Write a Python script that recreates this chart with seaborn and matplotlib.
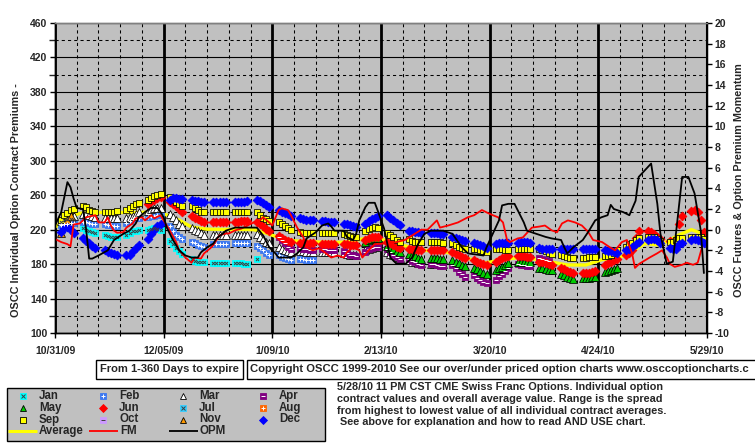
import numpy as np
import pandas as pd
import matplotlib
matplotlib.use("Agg")
import matplotlib.pyplot as plt
import seaborn as sns
from matplotlib.patches import Rectangle
from matplotlib.ticker import MultipleLocator, FixedLocator

sns.set_theme(style="white")
plt.rcParams["font.family"] = ["Liberation Sans", "DejaVu Sans"]
plt.rcParams["font.weight"] = "bold"

origin = pd.Timestamp("2009-10-31")
x_tick_days = [0, 35, 70, 105, 140, 175, 210]
x_tick_labels = ["10/31/09", "12/05/09", "1/09/10", "2/13/10", "3/20/10", "4/24/10", "5/29/10"]
left_ticks = list(range(100, 461, 40))
right_ticks = list(range(-10, 21, 2))

# daily contract averages (left axis), one list per contract month
jan_start = "2009-11-02"
jan_vals = [229, 231, 232, 232, 231, 222, 220, 218, 217, 216, 214, 213, 212, 212, 212,
            214, 216, 218, 219, 220, 220, 221, 222, 221, 220, 207, 203, 199, 195, 192,
            186, 184, 183, 182, 182, 181, 181, 181, 181, 181, 181, 181, 181, 180, 180, 186]

feb_start = "2009-11-02"
feb_vals = [225, 226, 227, 228, 228, 229, 229, 228, 227, 226, 226, 225, 225, 224, 224,
            228, 230, 232, 233, 234, 235, 236, 236, 237, 237, 224, 219, 214, 211, 209,
            206, 204, 202, 201, 200, 203, 203, 203, 203, 203, 205, 205, 205, 205, 205,
            201, 199, 196, 193, 191, 190, 188, 187, 186, 185, 186, 186, 185, 185, 185]

mar_start = "2009-11-02"
mar_vals = [230, 233, 235, 236, 236, 238, 238, 237, 236, 235, 234, 234, 233, 233, 233,
            234, 235, 236, 238, 240, 242, 244, 245, 245, 245, 238, 235, 231, 227, 224,
            222, 220, 218, 216, 214, 214, 214, 214, 214, 214, 214, 214, 214, 214, 214,
            215, 212, 209, 206, 204, 200, 198, 196, 195, 194, 195, 195, 194, 194, 194,
            194, 194, 194, 194, 194, 193, 192, 191, 191, 191, 196, 198, 199, 200, 200,
            194, 192, 190, 188, 187, 185, 183, 182, 181, 181, 180, 180, 180, 180, 180]

apr_start = "2010-01-11"
apr_vals = [212, 208, 204, 200, 198, 199, 198, 197, 196, 196, 198, 197, 196, 196, 196,
            195, 193, 191, 190, 189, 194, 197, 199, 200, 200, 197, 194, 191, 188, 186,
            186, 184, 182, 180, 179, 180, 180, 179, 178, 178, 179, 175, 171, 168, 165,
            167, 164, 161, 159, 158, 162, 166, 169, 172, 175, 180, 179, 179, 178, 178,
            187, 186, 185, 184]

may_start = "2010-02-08"
may_vals = [206, 208, 209, 210, 210, 201, 199, 197, 195, 194, 192, 190, 189, 187, 186,
            187, 187, 187, 186, 186, 185, 183, 181, 179, 178, 176, 174, 172, 170, 169,
            173, 175, 177, 179, 181, 183, 183, 183, 182, 182, 176, 175, 174, 173, 173,
            169, 167, 165, 164, 163, 164, 164, 164, 165, 165, 171, 172, 173, 174, 175]

jun_start = "2009-11-30"
jun_vals = [250, 253, 255, 257, 258, 252, 250, 247, 244, 241, 236, 234, 232, 230, 229,
            229, 229, 229, 229, 229, 229, 229, 230, 230, 230, 229, 227, 224, 221, 218,
            213, 210, 208, 207, 206, 205, 204, 204, 204, 204, 203, 203, 203, 203, 203,
            203, 203, 202, 202, 202, 208, 210, 211, 211, 211, 206, 204, 202, 200, 199,
            198, 197, 197, 196, 196, 196, 196, 196, 196, 196, 194, 192, 190, 188, 187,
            185, 183, 181, 180, 179, 183, 185, 187, 188, 189, 189, 189, 189, 188, 188,
            183, 182, 181, 180, 179, 176, 174, 172, 171, 170, 170, 170, 170, 171, 172,
            179, 181, 183, 185, 186, 190, 193, 196, 210, 218, 218, 217, 215, 212, 209,
            207, 206, 208, 226, 236, 242, 243, 241, 231, 217]

sep_start = "2009-11-02"
sep_vals = [231, 237, 239, 243, 244, 247, 246, 243, 242, 241, 240, 240, 240, 241, 242,
            243, 245, 247, 250, 251, 254, 257, 259, 260, 261, 258, 255, 252, 250, 248,
            247, 245, 243, 241, 240, 240, 240, 240, 240, 240, 241, 241, 241, 241, 241,
            240, 237, 234, 232, 230, 229, 226, 224, 222, 220, 217, 216, 216, 216, 216,
            216, 216, 216, 216, 216, 215, 214, 213, 212, 211, 218, 221, 222, 223, 222,
            216, 214, 211, 208, 206, 209, 207, 206, 206, 206, 206, 206, 206, 206, 205,
            204, 202, 200, 199, 198, 197, 197, 196, 195, 194, 197, 197, 197, 196, 196,
            197, 197, 197, 197, 197, 197, 196, 195, 193, 192, 190, 189, 188, 187, 187,
            187, 187, 188, 188, 188, 189, 189, 190, 193, 196, 200, 203, 205, 208, 210,
            211, 212, 211, 209, 207, 206, 206, 208, 210, 210, 211, 211, 211, 211, 209]

nov_start = "2009-11-02"
nov_vals = [216, 224, 231, 236]

dec_start = "2009-11-02"
dec_vals = [217, 222, 223, 220, 216, 210, 207, 204, 201, 199, 196, 194, 193, 192, 191,
            190, 191, 195, 199, 202, 209, 215, 220, 224, 227, 255, 257, 257, 256, 256,
            254, 253, 253, 252, 252, 252, 252, 252, 252, 252, 252, 252, 252, 252, 253,
            254, 253, 251, 249, 246, 243, 241, 239, 238, 236, 233, 232, 231, 231, 231,
            230, 230, 229, 229, 229, 227, 226, 225, 224, 223, 227, 230, 232, 234, 236,
            237, 234, 231, 228, 225, 219, 218, 217, 217, 216, 216, 216, 216, 215, 215,
            212, 210, 209, 208, 207, 204, 203, 202, 201, 199, 203, 204, 205, 205, 205,
            205, 206, 206, 206, 205, 199, 198, 197, 197, 197, 197, 197, 197, 197, 197,
            197, 197, 197, 197, 197, 196, 195, 195, 194, 193, 196, 197, 200, 203, 206,
            208, 209, 209, 208, 205, 199, 198, 198, 203, 205, 208, 209, 208, 207, 205]

# overall average (left axis)
avg_days = [0, 5, 8, 14, 25, 34, 36, 40, 44, 49, 64, 68, 72, 77, 82, 90, 95, 100, 103,
            114, 118, 125, 131, 138, 144, 150, 156, 165, 171, 176, 184, 190, 195, 201,
            205, 208, 209]
avg_vals = [223, 235, 239, 240, 240, 240.5, 237, 231, 223, 220.5, 220, 216, 211, 207,
            206, 205, 206, 210, 211, 200, 196, 195, 189, 181, 185, 188, 185, 179, 179,
            185, 190, 204, 202, 214, 220, 216, 208]

# futures momentum (right axis)
fm_days = [0, 2, 4, 5, 6, 8, 10, 13, 14, 16, 17, 18, 19, 20, 22, 23, 25, 26, 28, 29,
           31, 32, 34, 35, 37, 39, 40, 42, 44, 45, 47, 48, 50, 51, 52, 53, 55, 56, 58,
           60, 62, 64, 66, 67, 69, 70, 72, 73, 75, 76, 78, 80, 81, 83, 85, 86, 89, 91,
           93, 94, 96, 98, 99, 101, 102, 103, 108.5, 112.7, 118, 120, 123, 124, 126.6,
           129.8, 133, 135, 137.5, 139.5, 141, 142.7, 144.3, 145.6, 146.5, 149, 150.7,
           153.6, 156, 157.8, 160, 161.7, 163.3, 165.2, 167.5, 169.7, 171.7, 173.3,
           176.2, 178.7, 180.4, 182.6, 184.2, 185.8, 186.8, 188.2, 191.5, 193.9, 195.5,
           197.1, 198, 199.6, 202, 203.5, 205.5, 207, 208.4]
fm_vals = [-0.9, -1.2, -1.4, -1.6, 0.5, 0.6, 1.2, 1.4, 0.7, 0.7, 1.2, 0.4, -0.1, -0.3,
           -0.25, 0.2, 0.6, 1.1, 1.2, 0.9, 1.4, 1.1, 1.4, 0.9, -0.1, -1.2, -2.0, -2.7,
           -3.2, -2.7, -2.8, -2.3, -1.8, -1.5, -1.0, -0.55, -0.37, -0.37, -0.07, 0.1,
           0.4, 0.7, 0.9, 1.2, 0.7, 0.4, 1.9, 2.06, 1.9, 1.4, 0.2, -0.75, -1.7, -2.0,
           -1.8, -2.0, -2.7, -2.5, -2.7, -2.2, -1.7, -2.0, -2.7, -2.0, -1.7, -1.4, -1.3,
           -1.0, 0.0, 0.0, 0.9, 0.2, 0.4, 0.7, 1.2, 1.4, 1.9, 1.6, 1.4, 1.2, 0.7, -1.0,
           -1.2, -0.85, -0.75, 0.2, 0.3, 0.4, -0.07, -0.25, 0.6, 0.9, 0.7, 0.4, -0.2,
           -1.0, -1.2, -1.7, -2.0, -1.2, -1.0, -2.2, -3.7, -3.3, -2.7, -2.3, -2.0, -2.7,
           -3.3, -3.6, -3.4, -3.2, -3.4, -3.2, -1.7]

# option premium momentum (right axis)
opm_days = [0, 2, 4, 5, 6, 7, 9, 10, 11, 12, 14, 17, 19, 22, 24, 26, 27, 29, 31, 33,
            34, 35, 36, 38, 40, 42, 44, 46, 47, 49, 51, 52, 54, 55, 58, 65, 67, 69, 71,
            72, 76, 78, 80, 81, 84, 86, 88, 89, 90, 93, 94, 96, 97, 98, 100, 101, 103,
            104, 106, 108, 110, 113, 115, 117, 119, 121, 125, 128, 131, 133, 138, 139,
            141, 143, 144, 146, 148, 149, 151, 152, 155, 158, 160, 163, 164, 165, 167,
            170, 172, 174, 176, 178, 179, 180, 183, 185, 187, 188, 192, 194, 195, 197,
            199, 202, 204, 206, 208, 209]
opm_vals = [0.4, 1.7, 4.6, 4.1, 3.0, 2.1, 2.0, 0.1, -2.8, -2.8, -2.5, -2.0, -1.0, -0.4,
            -0.1, 0.6, 1.2, 1.7, 2.1, 2.1, 1.7, 1.2, 0.2, -1.0, -2.0, -2.5, -2.7, -2.7,
            -2.2, -1.7, -1.35, -0.85, -0.4, -0.1, 0.2, 0.2, -0.55, -1.7, -2.3, -2.7,
            -2.7, -2.3, -1.7, -0.85, -0.25, 0.4, 0.6, 0.3, -0.1, -0.1, -0.7, -1.0, -0.4,
            0.9, 2.2, 2.6, 2.6, 1.8, 0.1, -2.7, -3.3, -3.3, -2.7, -1.35, -0.4, -0.1,
            -0.1, -0.4, -1.7, -2.3, -2.5, -1.7, -0.4, 0.9, 2.35, 2.5, 2.5, 1.9, 0.7,
            -0.1, -0.4, -0.7, -0.85, -1.0, -1.7, -2.3, -1.7, -1.0, -0.1, 0.9, 1.2, 1.4,
            2.4, 2.0, 1.7, 1.4, 2.8, 5.1, 6.4, 2.5, -0.4, -3.3, -3.1, 5.1, 5.1, 3.5,
            -0.1, -4.2]

legend_names = ["Jan", "Feb", "Mar", "Apr", "May", "Jun", "Jul", "Aug", "Sep", "Oct", "Nov", "Dec"]
info_lines = ["5/28/10 11 PM CST CME Swiss Franc Options. Individual option",
              "contract values and overall average value. Range is the spread",
              "from highest to lowest value of all individual contract averages.",
              " See above for explanation and how to read AND USE chart."]
copyright_text = "Copyright OSCC 1999-2010 See our over/under priced option charts www.osccoptioncharts.c"

# marker styles: (marker, face, edge, inner marker, inner colour)
styles = {
    "Jan": ("s", "#00FFFF", "#00FFFF", "x", "#404040"),
    "Feb": ("s", "#3C78F0", "#3C78F0", "+", "white"),
    "Mar": ("^", "white", "black", None, None),
    "Apr": ("s", "#800080", "#800080", "_", "white"),
    "May": ("^", "#00CC00", "black", None, None),
    "Jun": ("D", "#FF0000", "#FF0000", None, None),
    "Jul": ("s", "#33CCFF", "#33CCFF", "x", "#404040"),
    "Aug": ("s", "#FF6600", "#FF6600", "+", "white"),
    "Sep": ("s", "#FFFF00", "black", None, None),
    "Oct": ("s", "#CC99FF", "#CC99FF", "_", "#404040"),
    "Nov": ("^", "#FF9900", "black", None, None),
    "Dec": ("D", "#0000FF", "#0000FF", None, None),
}

series = [("Jan", jan_start, jan_vals), ("Feb", feb_start, feb_vals),
          ("Mar", mar_start, mar_vals), ("Apr", apr_start, apr_vals),
          ("May", may_start, may_vals), ("Jun", jun_start, jun_vals),
          ("Sep", sep_start, sep_vals), ("Nov", nov_start, nov_vals),
          ("Dec", dec_start, dec_vals)]


def trade_days(start, vals):
    d = pd.bdate_range(start, periods=len(vals))
    return (d - origin).days.to_numpy()


fig = plt.figure(figsize=(7.55, 4.46), dpi=100)
fig.patch.set_facecolor("white")
ax = fig.add_axes([55 / 755, 113 / 446, 652 / 755, 310 / 446])
ax.set_facecolor("#C0C0C0")

ax.set_xlim(0, 210)
ax.set_ylim(100, 460)
ax.xaxis.set_major_locator(FixedLocator(x_tick_days))
ax.xaxis.set_minor_locator(MultipleLocator(7))
ax.yaxis.set_major_locator(FixedLocator(left_ticks))
ax.yaxis.set_minor_locator(MultipleLocator(20))
ax.set_xticklabels(x_tick_labels)
ax.set_yticklabels([str(t) for t in left_ticks])

ax.grid(which="major", axis="x", color="black", lw=2.0)
ax.grid(which="minor", axis="x", color="black", lw=0.75, ls=(0, (3, 3)))
ax.grid(which="major", axis="y", color="black", lw=0.8)
ax.grid(which="minor", axis="y", color="black", lw=0.75, ls=(0, (3, 3)))
ax.set_axisbelow(True)

ax.tick_params(axis="x", which="major", direction="out", length=3.5, width=1,
               color="black", pad=6, labelsize=7.5, bottom=True)
ax.tick_params(axis="x", which="minor", direction="out", length=2.5, width=0.8,
               color="black", bottom=True)
ax.tick_params(axis="y", which="major", direction="out", length=3.5, width=1,
               color="black", pad=2, labelsize=7.5, left=True)
ax.tick_params(axis="y", which="minor", left=False)
for lab in ax.get_xticklabels() + ax.get_yticklabels():
    lab.set_fontweight("bold")

# average line under the contract markers
sns.lineplot(x=avg_days, y=avg_vals, ax=ax, color="#FFFF00", lw=2.4, zorder=2,
             sort=False, estimator=None)

for name, start, vals in series:
    mk, face, edge, inner, inner_c = styles[name]
    days = trade_days(start, vals)
    size = {"s": 24, "D": 20, "^": 32}[mk]
    sns.scatterplot(x=days, y=vals, ax=ax, marker=mk, s=size, color=face,
                    edgecolor=edge, linewidth=0.55, zorder=3, legend=False)
    if inner is not None:
        sns.scatterplot(x=days, y=vals, ax=ax, marker=inner, s=5, color=inner_c,
                        linewidth=0.7, zorder=3.1, legend=False)

tw = ax.twinx()
tw.set_ylim(-10, 20)
tw.yaxis.set_major_locator(FixedLocator(right_ticks))
tw.set_yticklabels([str(t) for t in right_ticks])
tw.tick_params(axis="y", direction="out", length=3.5, width=1, color="black",
               pad=2, labelsize=7.5, right=True)
for lab in tw.get_yticklabels():
    lab.set_fontweight("bold")
tw.grid(False)

sns.lineplot(x=fm_days, y=fm_vals, ax=tw, color="#FF0000", lw=1.3, sort=False,
             estimator=None)
sns.lineplot(x=opm_days, y=opm_vals, ax=tw, color="black", lw=1.3, sort=False,
             estimator=None)
tw.set_xlim(0, 210)
tw.set_ylabel("")
ax.set_ylabel("")

for a in (ax, tw):
    for side in ("left", "bottom", "right"):
        a.spines[side].set_color("black")
        a.spines[side].set_linewidth(1.0)
    a.spines["top"].set_color("#808080")
    a.spines["top"].set_linewidth(1.0)
tw.spines["right"].set_linewidth(1.5)

fig.text(16 / 755, 1 - 200 / 446, "OSCC Individual Option Contract Premiums -",
         rotation=90, ha="center", va="center", fontsize=7.8, fontweight="bold")
fig.text(739 / 755, 1 - 180 / 446, "OSCC Futures & Option Premium Momentum",
         rotation=90, ha="center", va="center", fontsize=7.8, fontweight="bold")

# overlay in pixel units for the boxes and legend
ov = fig.add_axes([0, 0, 1, 1], zorder=5)
ov.set_xlim(0, 755)
ov.set_ylim(446, 0)
ov.axis("off")

ov.add_patch(Rectangle((96, 359.5), 147, 19, facecolor="white", edgecolor="black", lw=1))
ov.text(169.5, 369, "From 1-360 Days to expire", ha="center", va="center",
        fontsize=8, fontweight="bold")
ov.add_patch(Rectangle((247, 359.5), 560, 19, facecolor="white", edgecolor="black", lw=1,
                       clip_on=False))
ov.text(250, 369, copyright_text, ha="left", va="center", fontsize=8.1, fontweight="bold")

ov.add_patch(Rectangle((7, 388), 318, 53, facecolor="#C0C0C0", edgecolor="black", lw=1))
col_x = [23, 103, 183, 263]
row_y = [396, 408, 419.5]
for i, name in enumerate(legend_names):
    r, c = divmod(i, 4)
    mk, face, edge, inner, inner_c = styles[name]
    ov.plot(col_x[c], row_y[r], marker=mk, ms=4.5, mfc=face, mec=edge, mew=0.6)
    if inner is not None:
        ov.plot(col_x[c], row_y[r], marker=inner, ms=2.2, color=inner_c, mew=0.7)
    ov.text(col_x[c] + 16, row_y[r], name, ha="left", va="center", fontsize=8.3,
            fontweight="bold")
line_items = [("Average", "#FFFF00", 2.2, 8), ("FM", "#FF0000", 1.3, 89), ("OPM", "black", 1.3, 169)]
for name, col, lw, x0 in line_items:
    ov.plot([x0, x0 + 29], [431, 431], color=col, lw=lw, solid_capstyle="butt")
    ov.text(x0 + 31, 431, name, ha="left", va="center", fontsize=8.3, fontweight="bold")

for i, line in enumerate(info_lines):
    ov.text(337, 387 + i * 11.8, line, ha="left", va="center", fontsize=7.8,
            fontweight="bold")

fig.savefig("out.png", dpi=100)
